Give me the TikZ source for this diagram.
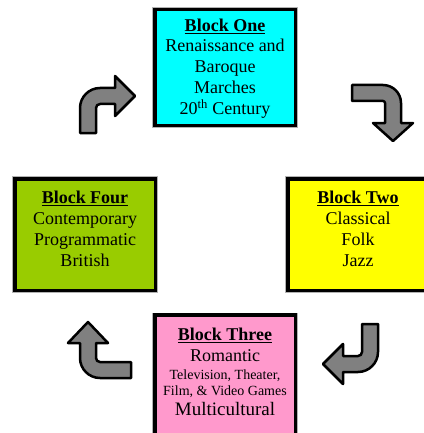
\documentclass[tikz,border=0pt]{standalone}
\usepackage{fontspec}
\setmainfont{Liberation Serif}
\usepackage{tikz}
\usetikzlibrary{positioning}

\definecolor{oneblue}{HTML}{00FFFF}
\definecolor{twoyellow}{HTML}{FFFF00}
\definecolor{threepink}{HTML}{FF99CC}
\definecolor{fourgreen}{HTML}{99CC00}
\definecolor{turngray}{HTML}{808080}

\begin{document}
\begin{tikzpicture}[
            x=1pt, y=-1pt, % pixel units, y going down
            block/.style={rectangle, draw, line width=3.5pt, inner sep=0pt, minimum width=140.5pt,
                preaction={draw=gray!60, line width=5pt}}, % coloured boxes
            blocktext/.style={inner sep=0pt, align=center, font=\fontsize{18}{20.8}\selectfont}, % text in boxes
            turn/.style={draw, line width=2.5pt, line join=round, fill=turngray} % bent arrows
            ]
        \useasboundingbox (0,0) rectangle (423,433);

        % Boxes
        \node[block, fill=oneblue, minimum height=115.5pt] (one) at (225,67.5) {};
        \node[block, fill=twoyellow, minimum height=111.5pt] (two) at (358,234.5) {};
        \node[block, fill=threepink, minimum height=125pt] (three) at (225,377.5) {};
        \node[block, fill=fourgreen, minimum height=111.5pt] (four) at (85,234.5) {};

        % Texts
        \node[blocktext, below=10.5pt of one.north] (onetext)
            {\underline{\textbf{Block One}}\\Renaissance and\\Baroque\\Marches\\20\textsuperscript{th} Century};
        \node[blocktext, below=14pt of two.north] (twotext)
            {\underline{\textbf{Block Two}}\\Classical\\Folk\\Jazz};
        \node[blocktext, below=15pt of three.north] (threetext)
            {\underline{\textbf{Block Three}}\\Romantic\\[-3.5pt]
            {\fontsize{14}{16}\selectfont Television, Theater,}\\[-4pt]
            {\fontsize{14}{16}\selectfont Film, \& Video Games}\\[-1pt]
            {\fontsize{19}{21}\selectfont Multicultural}};
        \node[blocktext, below=14pt of four.north] (fourtext)
            {\underline{\textbf{Block Four}}\\Contemporary\\Programmatic\\British};

        % Bent arrows
        \draw[turn] (80,133) -- (80,108) .. controls (80,97) and (89,88) .. (100,88) -- (115,88) -- (115,76)
            -- (135,96) -- (115,116) -- (115,104) -- (100,104) .. controls (97.8,104) and (96,105.8) .. (96,108)
            -- (96,133) -- cycle;
        \draw[turn] (352,85) -- (383,85) .. controls (392.9,85) and (401,93.1) .. (401,103) -- (401,123)
            -- (413,123) -- (393,141) -- (373,123) -- (385,123) -- (385,103) .. controls (385,101.9) and (384.1,101) .. (383,101)
            -- (352,101) -- cycle;
        \draw[turn] (362,324) -- (378,324) -- (378,352) .. controls (378,363) and (369,372) .. (358,372) -- (343,372)
            -- (343,384) -- (323,364) -- (343,344) -- (343,356) -- (358,356) .. controls (360.2,356) and (362,354.2) .. (362,352)
            -- cycle;
        \draw[turn] (88,322) -- (108,343) -- (96,343) -- (96,358) .. controls (96,360.2) and (97.8,362) .. (100,362)
            -- (131,362) -- (131,378) -- (100,378) .. controls (89,378) and (80,369) .. (80,358) -- (80,343)
            -- (68,343) -- cycle;

    \end{tikzpicture}
\end{document}
